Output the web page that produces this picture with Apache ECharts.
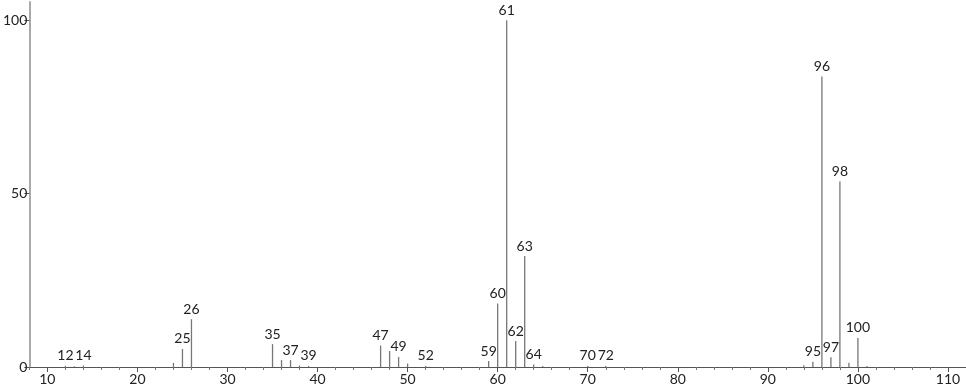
<!DOCTYPE html>
<html><head><meta charset="utf-8">
<script src="https://cdn.jsdelivr.net/npm/echarts@6/dist/echarts.min.js"></script>
<style>html,body{margin:0;padding:0;background:#fff}#c{width:966px;height:389px}</style>
</head><body><div id="c"></div>
<script>
const mz = [12,13,14,24,25,26,35,36,37,38,39,47,48,49,50,52,59,60,61,62,63,64,65,70,72,94,95,96,97,98,99,100,101];
const intensity = [0.3,0.2,0.4,1.2,5.2,13.8,6.6,2.0,2.0,0.4,0.3,6.2,4.6,2.9,1.0,0.3,1.7,18.3,100,7.5,32.0,0.7,0.3,0.3,0.3,0.5,1.5,83.8,2.8,53.5,1.2,8.4,0.3];
const labeledPeaks = [12,14,25,26,35,37,39,47,49,52,59,60,61,62,63,64,70,72,95,96,97,98,100];
const xTicks = [10,20,30,40,50,60,70,80,90,100,110];
const xMinorTicks = [8,12,14,16,18,22,24,26,28,32,34,36,38,42,44,46,48,52,54,56,58,62,64,66,68,72,74,76,78,82,84,86,88,92,94,96,98,102,104,106,108,112];
const yTicks = [0,50,100];

const FONT = 'Lato, "DejaVu Sans", sans-serif';
const chart = echarts.init(document.getElementById('c'), null, {renderer:'canvas'});
chart.setOption({
  animation: false,
  grid: {left: 27, right: 0, top: 2, bottom: 22, containLabel: false},
  xAxis: [{
    type: 'value', min: 8, max: 112, position: 'bottom',
    splitLine: {show: false},
    axisLine: {show: true, lineStyle: {color: '#555', width: 1}},
    axisTick: {show: true, customValues: xTicks, length: 5, lineStyle: {color: '#555'}},
    axisLabel: {customValues: xTicks, color: '#222', fontSize: 14, fontFamily: FONT, margin: 5}
  },{
    type: 'value', min: 8, max: 112, position: 'bottom',
    splitLine: {show: false},
    axisLine: {show: false},
    axisTick: {show: true, customValues: xMinorTicks, length: 3, lineStyle: {color: '#777'}},
    axisLabel: {show: false}
  }],
  yAxis: {
    type: 'value', min: 0, max: 105.3,
    splitLine: {show: false},
    axisLine: {show: true, lineStyle: {color: '#aaa', width: 2}},
    axisTick: {show: true, customValues: yTicks, length: 5, lineStyle: {color: '#555'}},
    axisLabel: {customValues: yTicks, color: '#222', fontSize: 14, fontFamily: FONT, margin: 2}
  },
  series: [{
    type: 'custom',
    xAxisIndex: 0,
    clip: false,
    data: mz.map((m, i) => [m, intensity[i]]),
    renderItem: function (params, api) {
      const x = api.value(0), y = api.value(1);
      const p0 = api.coord([x, 0]);
      const p1 = api.coord([x, y]);
      const children = [{
        type: 'line',
        shape: {x1: p0[0], y1: p0[1], x2: p1[0], y2: p1[1]},
        style: {stroke: '#777', lineWidth: 1.3}
      }];
      if (labeledPeaks.indexOf(x) >= 0) {
        children.push({
          type: 'text', x: p1[0], y: p1[1] - 3,
          style: {text: String(x), align: 'center', verticalAlign: 'bottom', fill: '#222', fontSize: 14, fontFamily: FONT}
        });
      }
      return {type: 'group', children: children};
    }
  }]
});
</script></body></html>
